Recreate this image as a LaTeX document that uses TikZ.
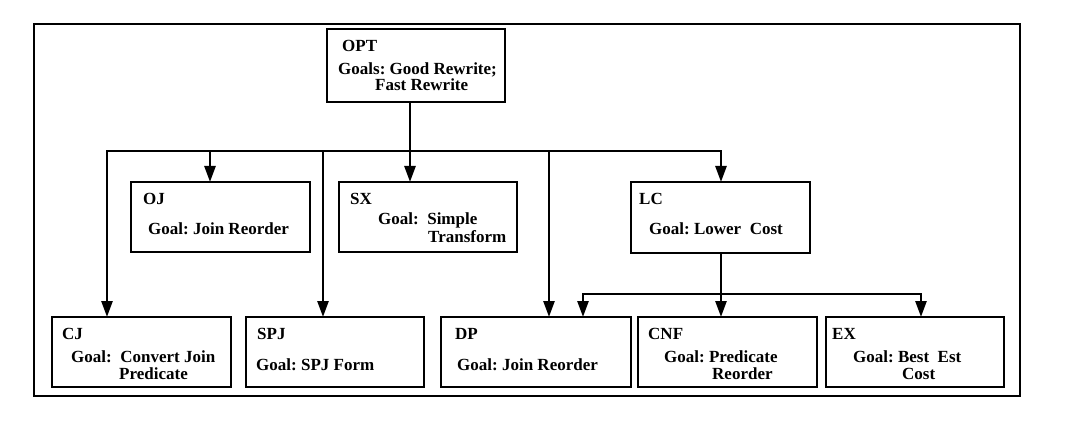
\documentclass[tikz,border=0pt]{standalone}
\usepackage{fontspec}
\setmainfont{Liberation Serif}
\usetikzlibrary{arrows.meta,calc}
\begin{document}
\frenchspacing
\begin{tikzpicture}[x=1pt,y=-1pt,
  box/.style={draw, line width=2.8pt, inner sep=0pt, outer sep=0pt, anchor=north west},
  lbl/.style={anchor=base west, inner sep=0pt, font=\bfseries\fontsize{17}{20}\selectfont},
  arr/.style={line width=2.6pt, -{Triangle[width=11pt,length=16pt]}},
  darr/.style={line width=2.6pt, {Triangle[width=11pt,length=16pt]}-{Triangle[width=11pt,length=16pt]}}]
\useasboundingbox (0,0) rectangle (1068,422);
% outer frame
\draw[line width=2.5pt] (34,24) rectangle (1020,396);
% boxes
\node[box, minimum width=178, minimum height=73] (opt) at (327,29) {};
\node[box, minimum width=179, minimum height=70] (oj) at (131,182) {};
\node[box, minimum width=178, minimum height=70] (sx) at (339,182) {};
\node[box, minimum width=179, minimum height=71] (lc) at (631,182) {};
\node[box, minimum width=179, minimum height=70] (cj) at (52,317) {};
\node[box, minimum width=178, minimum height=70] (spj) at (246,317) {};
\node[box, minimum width=190, minimum height=70] (dp) at (441,317) {};
\node[box, minimum width=179, minimum height=70] (cnf) at (638,317) {};
\node[box, minimum width=178, minimum height=70] (ex) at (826,317) {};
% texts
\node[lbl] (t1) at ($(opt.north west)+(15,23)$) {OPT};
\node[lbl] (t2) at ($(opt.north west)+(11,46)$) {Goals: Good Rewrite;};
\node[lbl] (t3) at ($(opt.north west)+(48,62)$) {Fast Rewrite};
\node[lbl] (t4) at ($(oj.north west)+(12,23)$) {OJ};
\node[lbl] (t5) at ($(oj.north west)+(17,52)$) {Goal: Join Reorder};
\node[lbl] (t6) at ($(sx.north west)+(11,23)$) {SX};
\node[lbl] (t7) at ($(sx.north west)+(39,43)$) {Goal:\ \ Simple};
\node[lbl] (t8) at ($(sx.north west)+(89,61)$) {Transform};
\node[lbl] (t9) at ($(lc.north west)+(8,23)$) {LC};
\node[lbl] (t10) at ($(lc.north west)+(18,53)$) {Goal: Lower\ \ Cost};
\node[lbl] (t11) at ($(cj.north west)+(10,22)$) {CJ};
\node[lbl] (t12) at ($(cj.north west)+(19,45)$) {Goal:\ \ Convert Join};
\node[lbl] (t13) at ($(cj.north west)+(67,62)$) {Predicate};
\node[lbl] (t14) at ($(spj.north west)+(11,22)$) {SPJ};
\node[lbl] (t15) at ($(spj.north west)+(10,53)$) {Goal: SPJ Form};
\node[lbl] (t16) at ($(dp.north west)+(14,22)$) {DP};
\node[lbl] (t17) at ($(dp.north west)+(16,53)$) {Goal: Join Reorder};
\node[lbl] (t18) at ($(cnf.north west)+(10,22)$) {CNF};
\node[lbl] (t19) at ($(cnf.north west)+(26,45)$) {Goal: Predicate};
\node[lbl] (t20) at ($(cnf.north west)+(74,62)$) {Reorder};
\node[lbl] (t21) at ($(ex.north west)+(6,22)$) {EX};
\node[lbl] (t22) at ($(ex.north west)+(27,45)$) {Goal: Best\ \ Est};
\node[lbl] (t23) at ($(ex.north west)+(76,62)$) {Cost};
% bus coordinates
\coordinate (bL) at (107,151);
\coordinate (bOJ) at (210,151);
\coordinate (bSPJ) at (323,151);
\coordinate (bOPT) at (410,151);
\coordinate (bDP) at (549,151);
\coordinate (bR) at (721,151);
\coordinate (lL) at (583,294);
\coordinate (lM) at (721,294);
\coordinate (lR) at (921,294);
% connectors
\draw[arr] (bOPT |- opt.south) -- (bOPT |- sx.north);
\draw[darr] (bL |- cj.north) -- (bL) -- (bR) -- (bR |- lc.north);
\draw[arr] (bOJ) -- (bOJ |- oj.north);
\draw[arr] (bSPJ) -- (bSPJ |- spj.north);
\draw[arr] (bDP) -- (bDP |- dp.north);
\draw[arr] (lM |- lc.south) -- (lM |- cnf.north);
\draw[darr] (lL |- dp.north) -- (lL) -- (lR) -- (lR |- ex.north);
\end{tikzpicture}
\end{document}
